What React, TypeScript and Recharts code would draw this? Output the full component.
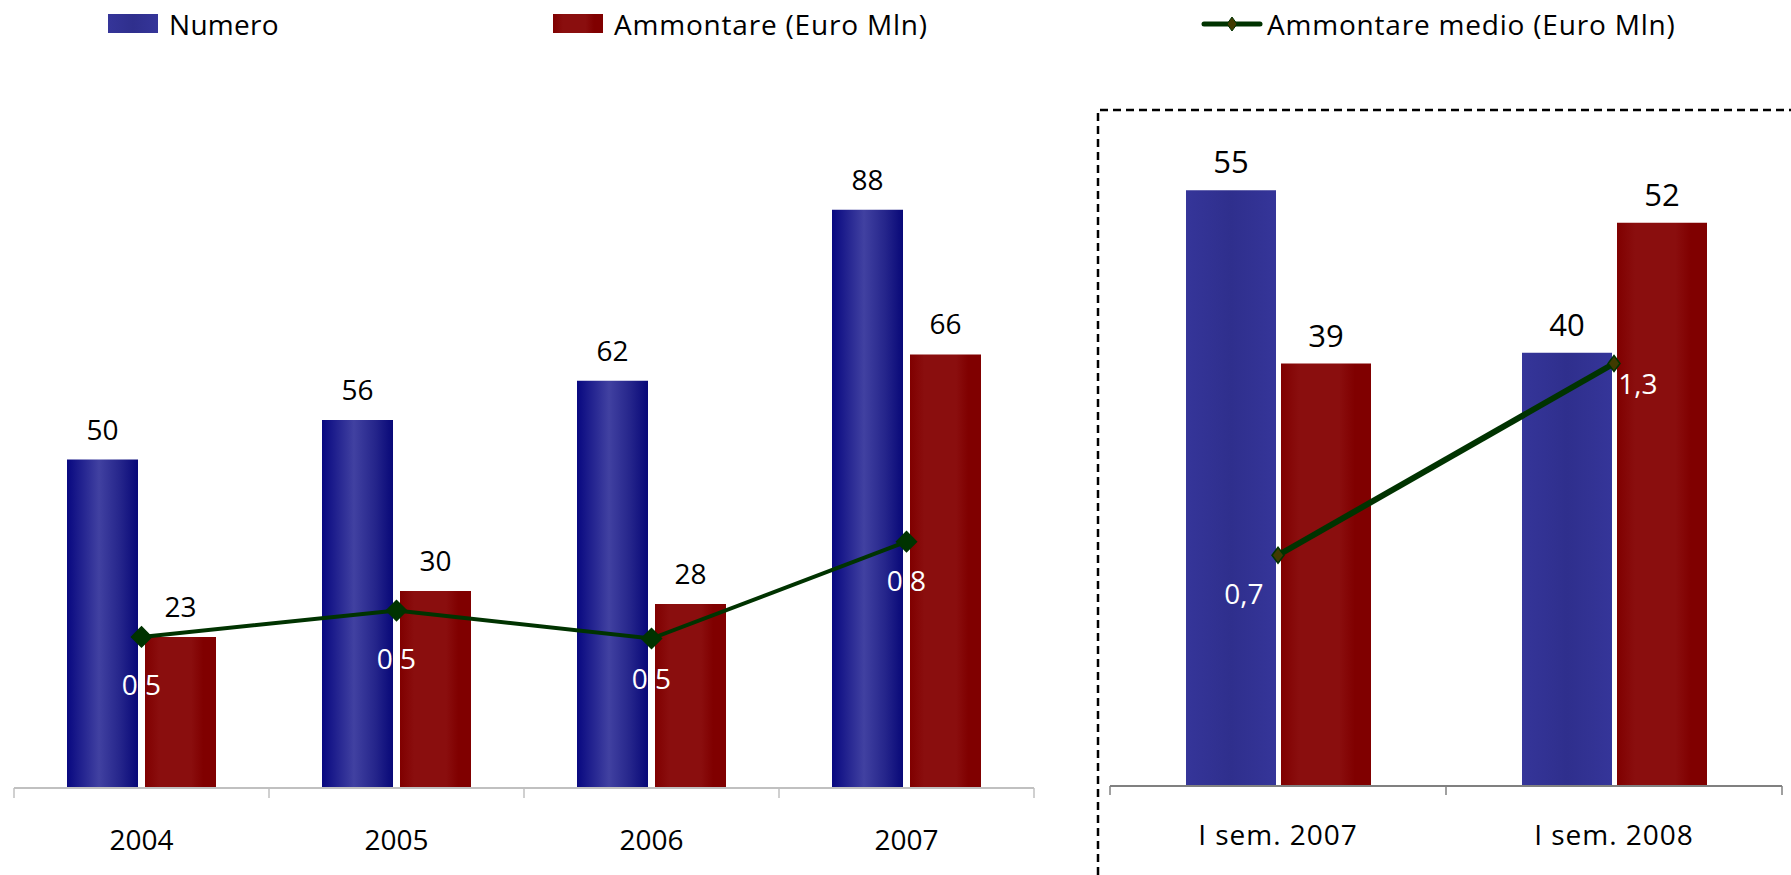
import React from "react";
import { ComposedChart, Bar, Line, XAxis, YAxis, LabelList } from "recharts";

// annual series
const YEARS = ["2004", "2005", "2006", "2007"];
const NUMERO_Y = [50, 56, 62, 88];
const AMMONTARE_Y = [23, 30, 28, 66];
const MEDIO_Y = [0.46, 0.54, 0.455, 0.75];

// half-year series
const SEMS = ["I sem. 2007", "I sem. 2008"];
const NUMERO_S = [55, 40];
const AMMONTARE_S = [39, 52];
const MEDIO_S = [0.71, 1.3];

const FONT = "'Open Sans', 'Liberation Sans', Arial, sans-serif";
const GREEN = "#003300";

const leftData = YEARS.map((name, i) => ({ name, numero: NUMERO_Y[i], ammontare: AMMONTARE_Y[i], medio: MEDIO_Y[i] }));
const rightData = SEMS.map((name, i) => ({ name, numero: NUMERO_S[i], ammontare: AMMONTARE_S[i], medio: MEDIO_S[i] }));

// label nudges for the average line (dx, baseline dy)
const LEFT_MEDIO_OFF = [[0, 58], [0, 58], [0, 50], [0, 49]];
const RIGHT_MEDIO_OFF = [[-34, 49], [24, 30]];

const fmt = (v: number) => (Math.round(v * 10) / 10).toFixed(1).replace(".", ",");

function CatTick(props: any) {
  const { x, y, payload, index, bw, count, color, tickLen, textDy, spacing } = props;
  return (
    <g>
      <line x1={x - bw / 2} x2={x - bw / 2} y1={y} y2={y + tickLen} stroke={color} strokeWidth={1.5} />
      {index === count - 1 && <line x1={x + bw / 2} x2={x + bw / 2} y1={y} y2={y + tickLen} stroke={color} strokeWidth={1.5} />}
      <text x={x} y={y + textDy} textAnchor="middle" fontSize={28} fontFamily={FONT} fill="#000" letterSpacing={spacing}>
        {payload.value}
      </text>
    </g>
  );
}

function Diamond({ cx, cy, w, h, fill }: any) {
  return <path d={`M${cx},${cy - h} L${cx + w},${cy} L${cx},${cy + h} L${cx - w},${cy} Z`} fill={fill} stroke={GREEN} strokeWidth={1.5} />;
}

function Gradients({ flat }: { flat: boolean }) {
  const p = flat ? "r" : "l";
  return (
    <defs>
      <linearGradient id={`${p}Blue`} x1="0" y1="0" x2="1" y2="0">
        {flat ? (
          <>
            <stop offset="0" stopColor="#353599" />
            <stop offset="0.5" stopColor="#2f2f8d" />
            <stop offset="1" stopColor="#353599" />
          </>
        ) : (
          <>
            <stop offset="0" stopColor="#080880" />
            <stop offset="0.45" stopColor="#4141a1" />
            <stop offset="0.75" stopColor="#25258b" />
            <stop offset="1" stopColor="#080878" />
          </>
        )}
      </linearGradient>
      <linearGradient id={`${p}Red`} x1="0" y1="0" x2="1" y2="0">
        <stop offset="0" stopColor="#800000" />
        <stop offset="0.2" stopColor="#8a0e0e" />
        <stop offset="0.65" stopColor="#8a0e0e" />
        <stop offset="0.82" stopColor="#800000" />
        <stop offset="1" stopColor="#800000" />
      </linearGradient>
    </defs>
  );
}

type PanelProps = {
  data: any[];
  width: number;
  height: number;
  margin: { top: number; right: number; bottom: number; left: number };
  leftMax: number;
  barSize: number;
  barGap: number;
  flat: boolean;
  axisColor: string;
  tickLen: number;
  textDy: number;
  spacing: number;
  labelSize: number;
  labelOffset: number;
  lineWidth: number;
  dotW: number;
  dotH: number;
  dotFill: string;
  medioOff: number[][];
};

function Panel(p: PanelProps) {
  const plotW = p.width - p.margin.left - p.margin.right;
  const bw = plotW / p.data.length;
  const p0 = p.flat ? "r" : "l";
  const barLabel = (lp: any) => (
    <text x={lp.x + lp.width / 2} y={lp.y - p.labelOffset} textAnchor="middle" fontSize={p.labelSize} fontFamily={FONT} fill="#000">
      {lp.value}
    </text>
  );
  return (
    <ComposedChart width={p.width} height={p.height} data={p.data} margin={p.margin} barGap={p.barGap}>
      <Gradients flat={p.flat} />
      <XAxis
        dataKey="name"
        height={60}
        tickSize={0}
        tickMargin={0}
        tickLine={false}
        axisLine={{ stroke: p.axisColor, strokeWidth: 2 }}
        interval={0}
        tick={(tp: any) => (
          <CatTick {...tp} bw={bw} count={p.data.length} color={p.axisColor} tickLen={p.tickLen} textDy={p.textDy} spacing={p.spacing} />
        )}
      />
      <YAxis yAxisId="left" hide domain={[0, p.leftMax]} />
      <YAxis yAxisId="right" hide domain={[0, 2]} orientation="right" />
      <Bar yAxisId="left" dataKey="numero" fill={`url(#${p0}Blue)`} barSize={p.barSize} isAnimationActive={false}>
        <LabelList dataKey="numero" content={barLabel} />
      </Bar>
      <Bar yAxisId="left" dataKey="ammontare" fill={`url(#${p0}Red)`} barSize={p.barSize} isAnimationActive={false}>
        <LabelList dataKey="ammontare" content={barLabel} />
      </Bar>
      <Line
        yAxisId="right"
        dataKey="medio"
        stroke={GREEN}
        strokeWidth={p.lineWidth}
        isAnimationActive={false}
        dot={(dp: any) => <Diamond key={dp.index} cx={dp.cx} cy={dp.cy} w={p.dotW} h={p.dotH} fill={p.dotFill} />}
      >
        <LabelList
          dataKey="medio"
          content={(lp: any) => {
            const off = p.medioOff[lp.index] || [0, 50];
            return (
              <text x={lp.x + off[0]} y={lp.y + off[1]} textAnchor="middle" fontSize={28} fontFamily={FONT} fill="#fff">
                {fmt(lp.value)}
              </text>
            );
          }}
        />
      </Line>
    </ComposedChart>
  );
}

const legendText: React.CSSProperties = {
  position: "absolute",
  top: 6,
  fontFamily: FONT,
  fontSize: 28,
  lineHeight: "36px",
  color: "#000",
  whiteSpace: "nowrap",
  letterSpacing: 0.8,
};

function Legend() {
  return (
    <>
      <div style={{ position: "absolute", left: 108, top: 14, width: 50, height: 19, background: "linear-gradient(90deg,#353599,#2f2f8d 50%,#353599)" }} />
      <div style={{ ...legendText, left: 169, letterSpacing: 0.3 }}>Numero</div>
      <div style={{ position: "absolute", left: 553, top: 14, width: 50, height: 19, background: "linear-gradient(90deg,#800000,#8a0e0e 20%,#8a0e0e 65%,#800000 82%)" }} />
      <div style={{ ...legendText, left: 614 }}>Ammontare (Euro Mln)</div>
      <svg style={{ position: "absolute", left: 1200, top: 12 }} width={64} height={24}>
        <line x1={4} x2={60} y1={12} y2={12} stroke={GREEN} strokeWidth={5} strokeLinecap="round" />
        <path d="M32,5 L37,12 L32,19 L27,12 Z" fill="#403a00" stroke={GREEN} strokeWidth={1} />
      </svg>
      <div style={{ ...legendText, left: 1267 }}>Ammontare medio (Euro Mln)</div>
    </>
  );
}

export default function App() {
  return (
    <div style={{ position: "absolute", left: 0, top: 0, width: 1791, height: 875, background: "#fff", overflow: "hidden" }}>
      <Legend />
      <div style={{ position: "absolute", left: 0, top: 0 }}>
        <Panel
          data={leftData}
          width={1090}
          height={875}
          margin={{ top: 131, right: 56, bottom: 27, left: 14 }}
          leftMax={100}
          barSize={71}
          barGap={7}
          flat={false}
          axisColor="#c0c0c0"
          tickLen={10}
          textDy={62}
          spacing={0}
          labelSize={28}
          labelOffset={20}
          lineWidth={4}
          dotW={10}
          dotH={10}
          dotFill={GREEN}
          medioOff={LEFT_MEDIO_OFF}
        />
      </div>
      <div style={{ position: "absolute", left: 1090, top: 0 }}>
        <Panel
          data={rightData}
          width={701}
          height={875}
          margin={{ top: 136, right: 9, bottom: 29, left: 20 }}
          leftMax={60}
          barSize={90}
          barGap={5}
          flat={true}
          axisColor="#808080"
          tickLen={9}
          textDy={59}
          spacing={1}
          labelSize={31}
          labelOffset={17}
          lineWidth={6}
          dotW={6}
          dotH={8}
          dotFill="#403a00"
          medioOff={RIGHT_MEDIO_OFF}
        />
      </div>
      <svg style={{ position: "absolute", left: 0, top: 0, pointerEvents: "none" }} width={1791} height={875}>
        <path d="M1098,875 L1098,110 L1791,110" fill="none" stroke="#000" strokeWidth={2.5} strokeDasharray="8 5" />
      </svg>
    </div>
  );
}
